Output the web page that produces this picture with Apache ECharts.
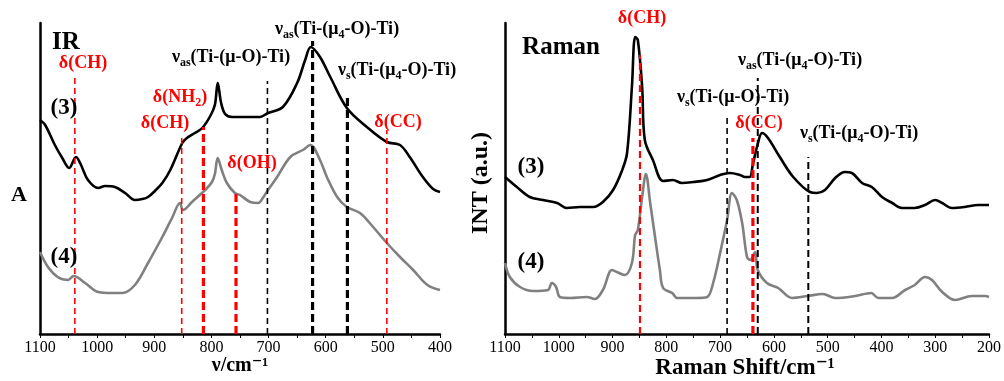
<!DOCTYPE html>
<html><head><meta charset="utf-8">
<script src="https://cdn.jsdelivr.net/npm/echarts@6/dist/echarts.min.js"></script>
<style>html,body{margin:0;padding:0;background:#fff}#c{width:1004px;height:381px}</style>
</head><body><div id="c"></div>
<script>
// ---------- DATA ----------
// IR spectra: [wavenumber (cm-1), relative absorbance (a.u.)]
const irWave3 = [1100,1091,1074,1061,1049,1037,1029,1016,998,986,969,951,934,921,911,899,886,872,851,843,829,816,802,794,789,783,776,764,750,715,701,675,650,636,626,610,592,563,528,493,470,453,430,412,400];
const irAbs3  = [214,209,189,176,166,177,170,154,146,148,147,141,134,135,137,143,151,164,191,196,201,206,218,229,251,231,220,217,217,217,221,227,251,274,287,277,257,226,207,192,189,177,157,145,142];
const irWave4 = [1100,1086,1069,1051,1041,1021,998,974,956,934,911,886,869,855,850,834,811,799,794,789,782,773,759,750,732,718,710,701,685,662,640,627,610,598,580,563,540,517,493,470,447,422,400];
const irAbs4  = [82,67,57,54,58,51,42,41,41,49,71,97,116,131,124,132,144,152,160,176,164,151,141,139,132,131,136,144,157,177,184,189,174,157,137,127,121,107,91,77,64,49,44];
// Raman spectra: [Raman shift (cm-1), intensity (a.u.)]
const ramWave3 = [1100,1078,1054,1029,1003,985,961,936,918,899,882,873,864,858,853,845,840,825,806,788,771,750,724,700,682,663,654,645,639,630,622,611,589,564,533,520,505,486,468,455,436,418,399,380,362,338,319,300,287,269,245,220,200];
const ramInt3  = [157,147,137,134,131,126,127,127,132,144,164,181,247,297,294,247,194,174,153,154,151,152,154,159,161,159,157,157,170,190,201,196,177,157,142,141,144,156,162,161,151,147,137,131,126,126,129,134,131,126,127,129,129];
const ramWave4 = [1100,1091,1072,1048,1020,1013,1005,998,979,948,933,918,901,892,877,864,858,853,845,838,830,821,812,806,789,780,762,743,724,713,700,687,678,669,659,650,644,635,630,613,592,566,537,509,486,449,419,406,380,356,338,319,306,287,263,232,207,200];
const ramInt4  = [71,57,47,43,44,51,47,37,36,37,35,44,64,62,59,71,99,104,137,160,131,97,64,46,41,36,36,36,37,51,81,114,141,134,111,77,74,82,64,51,46,36,38,40,36,38,41,36,36,44,49,57,54,42,34,38,38,37];
// Band assignment markers: position (cm-1) and top of dashed line (a.u.)
const irMarkPos   = [1039,852,814,757,702,623,562,493];
const irMarkTop   = [256,197,207,143,253,293,236,204];
const irMarkKind  = ['redThin','redThin','redThick','redThick','blackThin','blackThick','blackThick','redThin'];
const ramMarkPos  = [849,687,639,630,536];
const ramMarkTop  = [279,217,196,256,177];
const ramMarkKind = ['redMid','blackThin','redThick','blackMid','blackMid'];
// Axis ticks
const irTicks  = [1100,1000,900,800,700,600,500,400];
const ramTicks = [1100,1000,900,800,700,600,500,400,300,200];

// ---------- CHART ----------
const FONT = '"Liberation Serif", "DejaVu Serif", serif';
const RED = '#ff0000', GRAY = '#808080';
const zip = (a,b) => a.map((v,i)=>[v,b[i]]);
const styles = {
  redThin:   {color:RED, width:1.6, type:[6,4]},
  redMid:    {color:RED, width:2.2, type:[7,4]},
  redThick:  {color:RED, width:3.2, type:[8,4]},
  blackThin: {color:'#000', width:1.6, type:[6,4]},
  blackMid:  {color:'#000', width:2.0, type:[7,4]},
  blackThick:{color:'#000', width:3.2, type:[8,4]}
};

const chart = echarts.init(document.getElementById('c'), null, {renderer:'canvas'});

function xAx(idx, min, max, ticks){
  return {
    type:'value', gridIndex:idx, min:min, max:max, interval:100, inverse:true,
    axisLine:{show:true, onZero:false, lineStyle:{color:'#000', width:2.5}},
    axisTick:{show:true, inside:false, length:4, lineStyle:{color:'#000', width:1}},
    minorTick:{show:true, splitNumber:2, length:4, lineStyle:{color:'#000', width:1}},
    splitLine:{show:false},
    axisLabel:{show:true, margin:6, color:'#000', fontFamily:FONT, fontSize:16,
      formatter: v => ticks.indexOf(v) >= 0 ? String(v) : ''}
  };
}
function yAx(idx){
  return {type:'value', gridIndex:idx, min:0, max:311,
    axisLine:{show:true, lineStyle:{color:'#000', width:2.5}},
    axisTick:{show:false}, axisLabel:{show:false}, splitLine:{show:false}};
}
function curve(idx, data, color){
  return {type:'line', xAxisIndex:idx, yAxisIndex:idx, data:data, showSymbol:false, symbol:'none',
    smooth:0.35, z:3, lineStyle:{color:color, width:2.6}, silent:true};
}
function markers(idx, pos, top, kind){
  return pos.map((p,i)=>({type:'line', xAxisIndex:idx, yAxisIndex:idx, data:[[p,0],[p,top[i]]],
    showSymbol:false, symbol:'none', z:5, silent:true, lineStyle:styles[kind[i]]}));
}

const series = [
  curve(0, zip(irWave3, irAbs3), '#000'),
  curve(0, zip(irWave4, irAbs4), GRAY),
  curve(1, zip(ramWave3, ramInt3), '#000'),
  curve(1, zip(ramWave4, ramInt4), GRAY),
  ...markers(0, irMarkPos, irMarkTop, irMarkKind),
  ...markers(1, ramMarkPos, ramMarkTop, ramMarkKind)
];

const rich = {
  m:{fontFamily:FONT, fontSize:18, fontWeight:'bold', fill:'#000', lineHeight:24},
  s:{fontFamily:FONT, fontSize:12, fontWeight:'bold', fill:'#000', lineHeight:24, verticalAlign:'bottom'},
  r:{fontFamily:FONT, fontSize:18, fontWeight:'bold', fill:RED, lineHeight:24},
  rs:{fontFamily:FONT, fontSize:12, fontWeight:'bold', fill:RED, lineHeight:24, verticalAlign:'bottom'}
};
function txt(x, y, text, opts){
  opts = opts || {};
  return {type:'text', x:x, y:y, rotation:opts.rot||0, z:20, silent:true,
    style:{text:text, rich:rich, textAlign:'center', textVerticalAlign:'middle',
      font:(opts.font||('bold 18px '+FONT)), fill:(opts.fill||'#000')}};
}
const nuAs4 = '{m|ν}{s|as}{m|(Ti-(μ}{s|4}{m|-O)-Ti)}';
const nuS4  = '{m|ν}{s|s}{m|(Ti-(μ}{s|4}{m|-O)-Ti)}';

const graphic = [
  // IR panel
  txt(66, 43, 'IR', {font:'bold 25px '+FONT}),
  txt(83, 63, '{r|δ(CH)}'),
  txt(64, 108, '(3)', {font:'bold 23px '+FONT}),
  txt(64, 257, '(4)', {font:'bold 23px '+FONT}),
  txt(180, 97, '{r|δ(NH}{rs|2}{r|)}'),
  txt(165, 123, '{r|δ(CH)}'),
  txt(252, 163, '{r|δ(OH)}'),
  txt(231, 57, '{m|ν}{s|as}{m|(Ti-(μ-O)-Ti)}'),
  txt(337, 29, nuAs4),
  txt(397, 70, nuS4),
  txt(398, 122, '{r|δ(CC)}'),
  txt(19, 195, 'A', {font:'bold 22px '+FONT}),
  txt(240, 366, 'ν/cm⁻¹', {font:'bold 20px '+FONT}),
  // Raman panel
  txt(561, 48, 'Raman', {font:'bold 25px '+FONT}),
  txt(642, 18, '{r|δ(CH)}'),
  txt(531, 167, '(3)', {font:'bold 23px '+FONT}),
  txt(531, 262, '(4)', {font:'bold 23px '+FONT}),
  txt(800, 60, nuAs4),
  txt(733, 97, '{m|ν}{s|s}{m|(Ti-(μ-O)-Ti)}'),
  txt(759, 123, '{r|δ(CC)}'),
  txt(859, 133, nuS4),
  txt(481, 183, 'INT (a.u.)', {font:'bold 24px '+FONT, rot:Math.PI/2}),
  txt(745, 368, 'Raman Shift/cm⁻¹', {font:'bold 23px '+FONT})
];

chart.setOption({
  animation:false,
  backgroundColor:'#fff',
  grid:[
    {left:40, top:23, width:400, height:311},
    {left:505, top:23, width:484, height:311}
  ],
  xAxis:[xAx(0, 400, 1100, irTicks), xAx(1, 200, 1100, ramTicks)],
  yAxis:[yAx(0), yAx(1)],
  series:series,
  graphic:graphic
});
</script></body></html>
